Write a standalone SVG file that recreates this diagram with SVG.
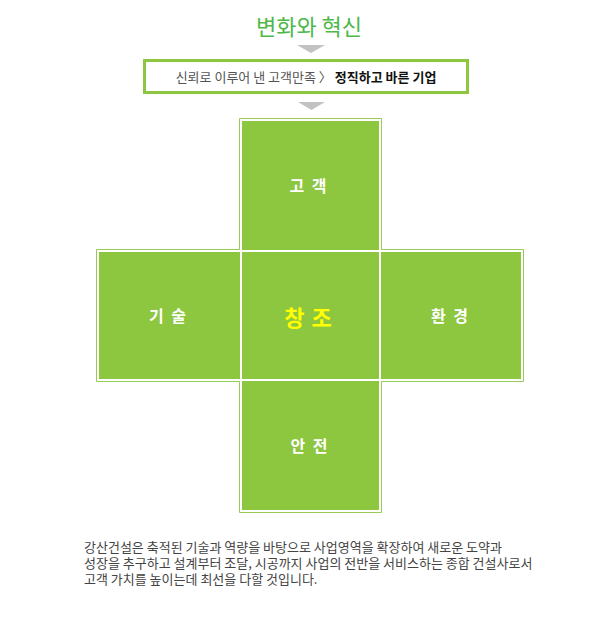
<svg xmlns="http://www.w3.org/2000/svg" width="602" height="629" viewBox="0 0 602 629">
<style>
.ko{font-family:"Noto Sans CJK KR","Noto Sans",sans-serif}
.fill{fill:#8dc63f}
.lbl{font-size:16px;font-weight:bold;fill:#ffffff;text-anchor:middle;letter-spacing:2px}
.para{font-size:13px;fill:#444444}
.tri{fill:#c2c2c2}
</style>
<rect x="0" y="0" width="602" height="629" fill="#ffffff"/>
<g id="title">
<text class="ko" x="309" y="35" font-size="22" fill="#4cb848" text-anchor="middle">변화와 혁신</text>
</g>
<g id="connectors">
<polygon class="tri" points="297,45 325,45 311,53"/>
<polygon class="tri" points="298,102 325,102 311.5,110"/>
</g>
<g id="motto">
<rect x="144.5" y="60.5" width="323" height="32" fill="#ffffff" stroke="#8dc63f" stroke-width="3"/>
<text class="ko" x="306" y="81.5" font-size="13" text-anchor="middle"><tspan fill="#555555">신뢰로 이루어 낸 고객만족 〉 </tspan><tspan fill="#111111" font-weight="bold">정직하고 바른 기업</tspan></text>
</g>
<g id="cross-outline">
<path d="M239.5,118.5 H381.5 V249.5 H523.5 V381.5 H381.5 V512.5 H239.5 V381.5 H96.5 V249.5 H239.5 Z" fill="none" stroke="#98cb55" stroke-width="1"/>
</g>
<g id="node-customer">
<rect class="fill" x="242" y="121" width="137" height="129"/>
<text class="ko lbl" x="309" y="192">고 객</text>
</g>
<g id="node-technology">
<rect class="fill" x="99" y="252" width="141" height="127"/>
<text class="ko lbl" x="168.5" y="322">기 술</text>
</g>
<g id="node-creation">
<rect class="fill" x="242" y="252" width="137" height="127"/>
<text class="ko" x="308.5" y="326" font-size="22" font-weight="bold" fill="#ffff00" text-anchor="middle" letter-spacing="1">창 조</text>
</g>
<g id="node-environment">
<rect class="fill" x="381" y="252" width="140" height="127"/>
<text class="ko lbl" x="450.5" y="322">환 경</text>
</g>
<g id="node-safety">
<rect class="fill" x="242" y="381" width="137" height="129"/>
<text class="ko lbl" x="310" y="452">안 전</text>
</g>
<g id="description">
<text class="ko para" x="84" y="552">강산건설은 축적된 기술과 역량을 바탕으로 사업영역을 확장하여 새로운 도약과</text>
<text class="ko para" x="84" y="568">성장을 추구하고 설계부터 조달, 시공까지 사업의 전반을 서비스하는 종합 건설사로서</text>
<text class="ko para" x="84" y="584">고객 가치를 높이는데 최선을 다할 것입니다.</text>
</g>
</svg>
